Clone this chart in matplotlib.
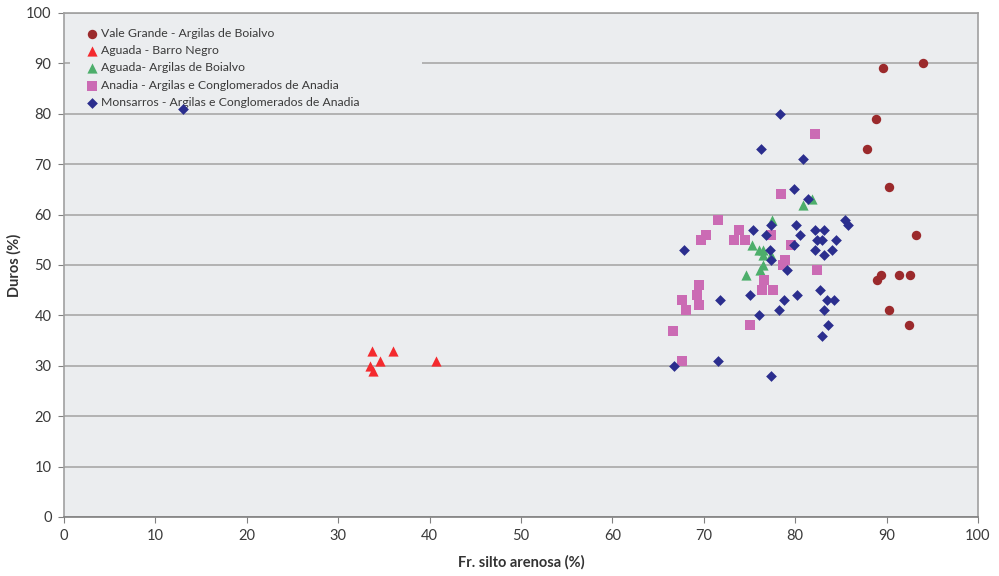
import matplotlib
matplotlib.use("Agg")
import matplotlib.pyplot as plt
from matplotlib.patches import Rectangle

plt.rcParams['font.family'] = ['Lato', 'DejaVu Sans']

# Vale Grande - Argilas de Boialvo
vg_x = [94.0, 89.6, 88.8, 87.9, 90.3, 93.2, 89.4, 89.0, 91.4, 92.6, 90.3, 92.4]
vg_y = [90, 89, 79, 73, 65.5, 56, 48, 47, 48, 48, 41, 38]

# Aguada - Barro Negro
bn_x = [33.7, 36.0, 34.6, 33.5, 33.8, 40.7]
bn_y = [33, 33, 31, 30, 29, 31]

# Aguada- Argilas de Boialvo
ab_x = [81.8, 80.8, 77.5, 75.3, 76.0, 76.5, 76.5, 77.4, 76.5, 76.1, 74.6]
ab_y = [63, 62, 59, 54, 53, 53, 52, 52, 50, 49, 48]

# Anadia - Argilas e Conglomerados de Anadia
an_x = [82.2, 78.4, 71.5, 73.9, 70.2, 69.7, 77.3, 73.3, 74.5, 79.5, 78.9, 78.7,
        82.4, 69.5, 76.6, 69.3, 76.4, 77.6, 67.6, 69.5, 68.1, 75.1, 66.6, 67.6]
an_y = [76, 64, 59, 57, 56, 55, 56, 55, 55, 54, 51, 50,
        49, 46, 47, 44, 45, 45, 43, 42, 41, 38, 37, 31]

# Monsarros - Argilas e Conglomerados de Anadia
mo_x = [13.0, 78.3, 76.3, 80.8, 79.9, 81.4, 85.4, 85.8, 77.4, 80.1, 75.4, 82.2,
        83.1, 76.8, 80.5, 82.4, 82.9, 84.5, 79.9, 67.8, 77.2, 82.2, 84.0, 83.1,
        77.4, 79.1, 82.7, 75.1, 80.2, 71.8, 78.8, 83.5, 84.2, 78.2, 83.2, 76.0,
        83.6, 82.9, 71.6, 66.7, 77.3]
mo_y = [81, 80, 73, 71, 65, 63, 59, 58, 58, 58, 57, 57,
        57, 56, 56, 55, 55, 55, 54, 53, 53, 53, 53, 52,
        51, 49, 45, 44, 44, 43, 43, 43, 43, 41, 41, 40,
        38, 36, 31, 30, 28]

labels = ["Vale Grande - Argilas de Boialvo",
          "Aguada - Barro Negro",
          "Aguada- Argilas de Boialvo",
          "Anadia - Argilas e Conglomerados de Anadia",
          "Monsarros - Argilas e Conglomerados de Anadia"]

x_ticks = list(range(0, 101, 10))
y_ticks = list(range(0, 101, 10))

fig = plt.figure(figsize=(9.99, 5.76), dpi=100)
ax = fig.add_axes([64/999, 1-517/576, (978-64)/999, (517-13)/576])
face = '#EBEDEF'
ax.set_facecolor(face)

ax.scatter(vg_x, vg_y, marker='o', s=46, color='#9B2A2C', label=labels[0], zorder=3, linewidths=0)
ax.scatter(bn_x, bn_y, marker='^', s=54, color='#F42A2E', label=labels[1], zorder=3, linewidths=0)
ax.scatter(ab_x, ab_y, marker='^', s=54, color='#4DAE6B', label=labels[2], zorder=3, linewidths=0)
ax.scatter(an_x, an_y, marker='s', s=42, color='#CB6BB4', label=labels[3], zorder=3, linewidths=0)
ax.scatter(mo_x, mo_y, marker='D', s=30, color='#2B2E8E', label=labels[4], zorder=4, linewidths=0)

ax.set_xlim(0, 100)
ax.set_ylim(0, 100)
ax.set_xticks(x_ticks)
ax.set_yticks(y_ticks)
ax.yaxis.grid(True, color='#A8A8A8', linewidth=1.2)
ax.set_axisbelow(True)
for sp in ax.spines.values():
    sp.set_color('#A0A0A0')
    sp.set_linewidth(1.2)
ax.spines['bottom'].set_color('#808080')
ax.tick_params(axis='both', direction='out', length=4, color='#808080',
               labelsize=10.5, labelcolor='#3A3A3A', pad=5)

ax.set_xlabel('Fr. silto arenosa (%)', fontsize=10.5, fontweight='bold', color='#333333', labelpad=8)
ax.set_ylabel('Duros (%)', fontsize=10.5, fontweight='bold', color='#333333', labelpad=3)

# legend background box (covers gridlines like the original)
ax.add_patch(Rectangle((0.0066, 0.808), 0.385, 0.188, transform=ax.transAxes,
                       facecolor=face, edgecolor='none', zorder=2))

leg = ax.legend(loc='upper left', bbox_to_anchor=(0.008, 0.995), frameon=False,
                fontsize=8.8, handletextpad=0.05, labelspacing=0.52,
                borderpad=0.5, handlelength=1.4, scatterpoints=1, markerscale=1.0)
for t in leg.get_texts():
    t.set_color('#3A3A3A')
leg.set_zorder(3.5)

fig.savefig('out.png', dpi=100)
